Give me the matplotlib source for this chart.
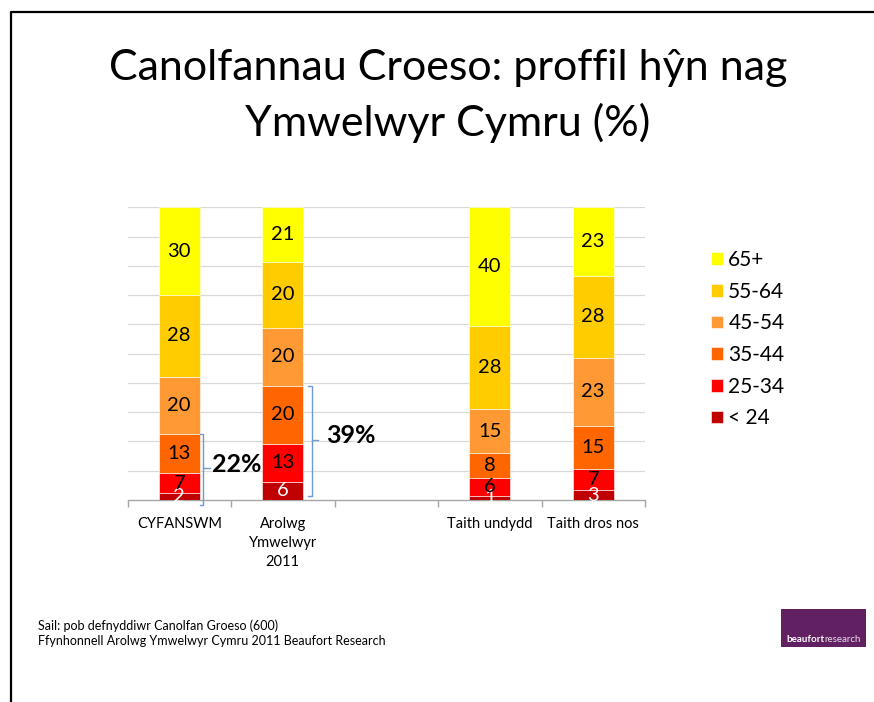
import matplotlib
matplotlib.use("Agg")
import matplotlib.pyplot as plt
import numpy as np
from matplotlib.patches import Rectangle
from matplotlib.lines import Line2D

plt.rcParams['font.family'] = ['Lato', 'DejaVu Sans']

categories = ["CYFANSWM", "Arolwg\nYmwelwyr\n2011", "", "Taith undydd", "Taith dros nos"]
age_groups = ["< 24", "25-34", "35-44", "45-54", "55-64", "65+"]
colors = ["#C00000", "#FF0000", "#FF6600", "#FF9933", "#FFCC00", "#FFFF00"]

# segment heights (%)
v_u24 = [2.3, 6.2, 0, 1.4, 3.3]
v_2534 = [6.8, 13.1, 0, 6.2, 7.2]
v_3544 = [13.3, 19.7, 0, 8.3, 14.9]
v_4554 = [19.7, 19.8, 0, 15.3, 23.2]
v_5564 = [27.9, 22.5, 0, 28.4, 28.0]
v_65 = [30.0, 18.7, 0, 40.4, 23.4]

# data labels as printed
l_u24 = ["2", "6", "", "1", "3"]
l_2534 = ["7", "13", "", "6", "7"]
l_3544 = ["13", "20", "", "8", "15"]
l_4554 = ["20", "20", "", "15", "23"]
l_5564 = ["28", "20", "", "28", "28"]
l_65 = ["30", "21", "", "40", "23"]

bracket_labels = ["22%", "39%"]

series = [v_u24, v_2534, v_3544, v_4554, v_5564, v_65]
labels = [l_u24, l_2534, l_3544, l_4554, l_5564, l_65]

fig = plt.figure(figsize=(8.74, 7.02), dpi=100)
ax = fig.add_axes([127.5/874, 1-500/702, 517.5/874, 292.7/702])

x = np.arange(len(categories))
bottom = np.zeros(len(categories))
handles = []
for vals, labs, col, name in zip(series, labels, colors, age_groups):
    vals = np.array(vals, dtype=float)
    bars = ax.bar(x, vals, width=0.4, bottom=bottom, color=col, edgecolor='#FFFFFF',
                  linewidth=0.4, label=name, zorder=3)
    txtcol = 'white' if name == "< 24" else 'black'
    for xi, v, b, lab in zip(x, vals, bottom, labs):
        if lab:
            ax.text(xi, b + v/2, lab, ha='center', va='center', fontsize=14.5,
                    color=txtcol, zorder=4)
    bottom += vals
    handles.append(bars)

ax.set_xlim(-0.5, 4.5)
ax.set_ylim(0, 100)
ax.set_yticks(np.arange(10, 101, 10))
ax.yaxis.grid(True, color='#D9D9D9', linewidth=0.9, zorder=0)
ax.tick_params(axis='y', length=0, labelleft=False)
for s in ['left', 'right', 'top']:
    ax.spines[s].set_visible(False)
ax.spines['bottom'].set_color('#A6A6A6')
ax.spines['bottom'].set_linewidth(1.0)
ax.set_xticks(x)
ax.set_xticklabels(categories, fontsize=10.5, linespacing=1.45)
ax.tick_params(axis='x', length=0, pad=12)
ax.set_xticks(np.arange(-0.5, 5, 1), minor=True)
ax.tick_params(axis='x', which='minor', length=5, color='#A6A6A6', width=1.0)

# brackets
bc = '#6D9AD0'
def bracket(xb, y0, y1, xin, xout, ymid):
    ax.add_line(Line2D([xin, xb, xb, xin], [y1, y1, y0, y0], color=bc, lw=1.0,
                       clip_on=False, zorder=5))
    ax.add_line(Line2D([xb, xout], [ymid, ymid], color=bc, lw=1.0, clip_on=False, zorder=5))

cum0 = v_u24[0] + v_2534[0] + v_3544[0]
cum1 = v_u24[1] + v_2534[1] + v_3544[1]
bracket(0.232, -1.7, cum0, 0.2, 0.297, 10.9)
ax.text(0.315, 12.0, bracket_labels[0], ha='left', va='center', fontsize=18,
        fontweight='bold', zorder=5)
bracket(1.279, 1.4, cum1, 1.244, 1.34, 20.5)
ax.text(1.42, 22.0, bracket_labels[1], ha='left', va='center', fontsize=18,
        fontweight='bold', zorder=5)

leg = ax.legend(handles[::-1], age_groups[::-1], loc='upper left',
                bbox_to_anchor=(711/874, 1-250/702), bbox_transform=fig.transFigure,
                frameon=False, fontsize=15, handlelength=0.58, handleheight=0.58,
                handletextpad=0.25, labelspacing=0.56, borderaxespad=0, borderpad=0)

# title
fig.text(448/874, 1-68/702, "Canolfannau Croeso: proffil hŷn nag", ha='center', va='center',
         fontsize=31)
fig.text(448/874, 1-123/702, "Ymwelwyr Cymru (%)", ha='center', va='center', fontsize=31)

# footnotes
fig.text(38/874, 1-626/702, "Sail: pob defnyddiwr Canolfan Groeso (600)", ha='left',
         va='center', fontsize=9)
fig.text(38/874, 1-641/702, "Ffynhonnell Arolwg Ymwelwyr Cymru 2011 Beaufort Research",
         ha='left', va='center', fontsize=9)

# logo
fig.patches.append(Rectangle((781/874, 1-647/702), 85/874, 38/702, transform=fig.transFigure,
                             facecolor='#612062', edgecolor='none'))
t1 = fig.text(786/874, 1-639/702, "beaufort", ha='left', va='center', fontsize=7,
              fontweight='bold', color='white')
fig.canvas.draw()
ext = t1.get_window_extent(renderer=fig.canvas.get_renderer())
xr = fig.transFigure.inverted().transform((ext.x1, ext.y0))[0]
fig.text(xr, 1-639/702, "research", ha='left', va='center', fontsize=7, color='#E8DDE8')

# slide border
fig.add_artist(Line2D([10.5/874, 10.5/874, 1], [0, 1-11.5/702, 1-11.5/702],
                      transform=fig.transFigure, color='black', lw=1.6))

fig.savefig("out.png", dpi=100)
